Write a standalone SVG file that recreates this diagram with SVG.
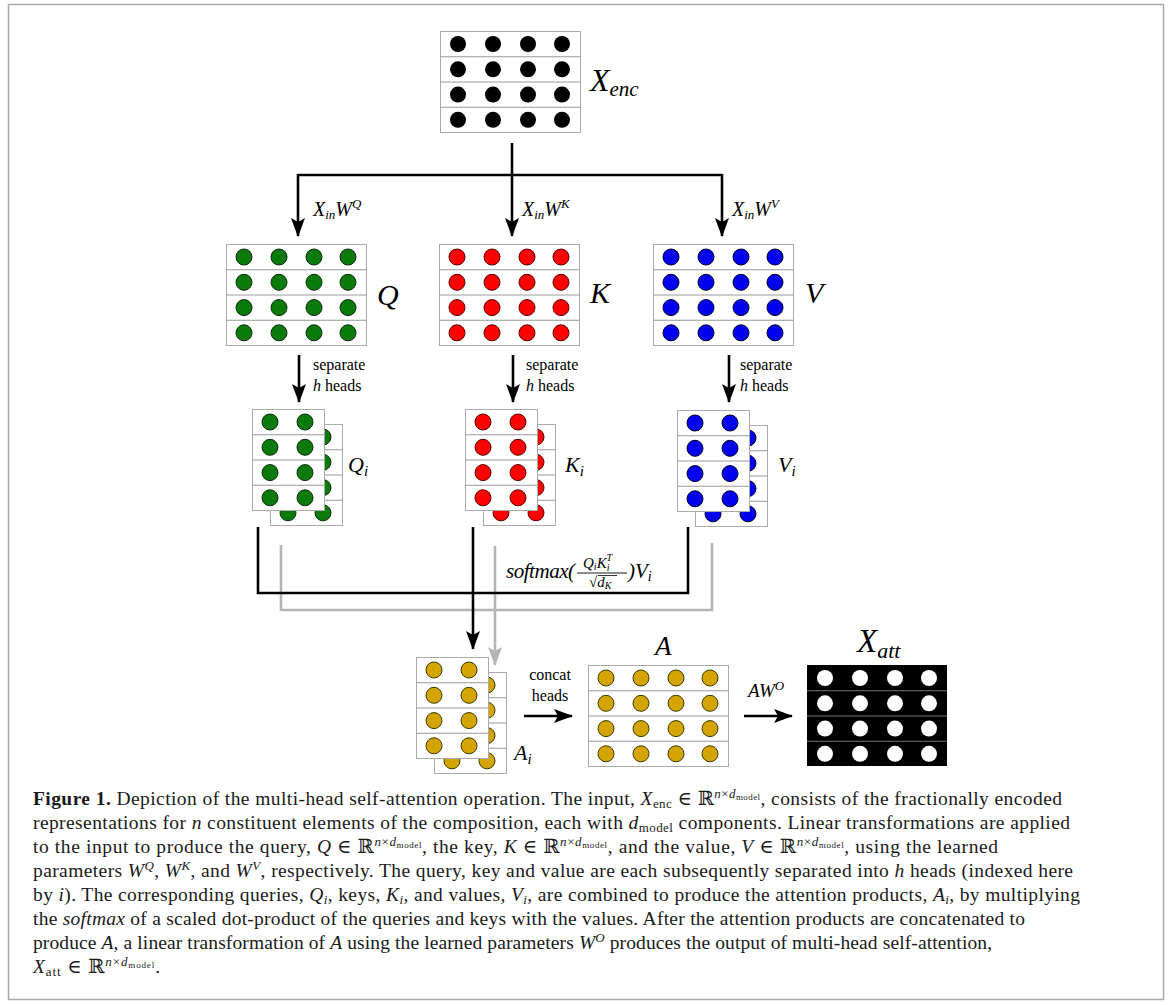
<svg xmlns="http://www.w3.org/2000/svg" xmlns:xlink="http://www.w3.org/1999/xlink" width="1169" height="1005" viewBox="0 0 1169 1005">
<style>
.lbl{font-family:"Liberation Serif","DejaVu Serif",serif;fill:#000}
.it{font-style:italic}
.cap{font-family:"Liberation Serif","DejaVu Serif",serif;font-size:19.5px;fill:#1a1a1a}
.s13{font-size:13px}
.s9{font-size:9px}
.ln{fill:none;stroke:#000;stroke-width:2.6}
.gl{fill:none;stroke:#b4b4b4;stroke-width:2.6}
</style>
<defs>
<marker id="ah" markerUnits="userSpaceOnUse" markerWidth="20" markerHeight="14" refX="18" refY="7" orient="auto" viewBox="0 0 20 14"><path d="M0,0 L19,7 L0,14 L4,7 Z" fill="#000"/></marker>
<marker id="ahg" markerUnits="userSpaceOnUse" markerWidth="20" markerHeight="14" refX="18" refY="7" orient="auto" viewBox="0 0 20 14"><path d="M0,0 L19,7 L0,14 L4,7 Z" fill="#b4b4b4"/></marker>
<g id="f4"><rect x="0.5" y="0.5" width="140" height="101" fill="#fff" stroke="#aaa"/><path d="M0.5,25.75H140.5M0.5,51H140.5M0.5,76.25H140.5" stroke="#999" fill="none"/></g>
<g id="f2"><rect x="0.5" y="0.5" width="72" height="101" fill="#fff" stroke="#aaa"/><path d="M0.5,25.75H72.5M0.5,51H72.5M0.5,76.25H72.5" stroke="#999" fill="none"/></g>
<g id="c4">
<circle cx="18" cy="13" r="8"/><circle cx="53" cy="13" r="8"/><circle cx="88" cy="13" r="8"/><circle cx="122" cy="13" r="8"/>
<circle cx="18" cy="38.3" r="8"/><circle cx="53" cy="38.3" r="8"/><circle cx="88" cy="38.3" r="8"/><circle cx="122" cy="38.3" r="8"/>
<circle cx="18" cy="63.6" r="8"/><circle cx="53" cy="63.6" r="8"/><circle cx="88" cy="63.6" r="8"/><circle cx="122" cy="63.6" r="8"/>
<circle cx="18" cy="88.8" r="8"/><circle cx="53" cy="88.8" r="8"/><circle cx="88" cy="88.8" r="8"/><circle cx="122" cy="88.8" r="8"/>
</g>
<g id="c2">
<circle cx="18" cy="13" r="8"/><circle cx="53" cy="13" r="8"/>
<circle cx="18" cy="38.3" r="8"/><circle cx="53" cy="38.3" r="8"/>
<circle cx="18" cy="63.6" r="8"/><circle cx="53" cy="63.6" r="8"/>
<circle cx="18" cy="88.8" r="8"/><circle cx="53" cy="88.8" r="8"/>
</g>
</defs>
<rect x="0" y="0" width="1169" height="1005" fill="#fff"/>
<rect x="8.5" y="4.5" width="1155" height="995" fill="none" stroke="#a8a8a8" stroke-width="1.5"/>

<g id="Xenc" transform="translate(440,31)"><use href="#f4"/><use href="#c4" fill="#000"/>
<text class="lbl it" x="150" y="60" font-size="32">X<tspan font-size="21" dy="5">enc</tspan></text></g>

<g id="Q" transform="translate(226,244)"><use href="#f4"/><use href="#c4" fill="#0a7a0a" stroke="#0d2a0d"/>
<text class="lbl it" x="151" y="61" font-size="30">Q</text></g>
<g id="K" transform="translate(439,244)"><use href="#f4"/><use href="#c4" fill="#ff0000" stroke="#5a0000"/>
<text class="lbl it" x="151" y="59" font-size="30">K</text></g>
<g id="V" transform="translate(653,244)"><use href="#f4"/><use href="#c4" fill="#0000ee" stroke="#00002a"/>
<text class="lbl it" x="152" y="59" font-size="30">V</text></g>

<g id="Qi" transform="translate(252,409)"><g transform="translate(18,15)"><use href="#f2"/><use href="#c2" fill="#0a7a0a" stroke="#0d2a0d"/></g><use href="#f2"/><use href="#c2" fill="#0a7a0a" stroke="#0d2a0d"/>
<text class="lbl it" x="96" y="63" font-size="22">Q<tspan font-size="15" dy="4">i</tspan></text></g>
<g id="Ki" transform="translate(465,409)"><g transform="translate(18,15)"><use href="#f2"/><use href="#c2" fill="#ff0000" stroke="#5a0000"/></g><use href="#f2"/><use href="#c2" fill="#ff0000" stroke="#5a0000"/>
<text class="lbl it" x="100" y="63" font-size="22">K<tspan font-size="15" dy="4">i</tspan></text></g>
<g id="Vi" transform="translate(677,410)"><g transform="translate(18,15)"><use href="#f2"/><use href="#c2" fill="#0000ee" stroke="#00002a"/></g><use href="#f2"/><use href="#c2" fill="#0000ee" stroke="#00002a"/>
<text class="lbl it" x="101" y="62" font-size="22">V<tspan font-size="15" dy="4">i</tspan></text></g>

<g id="Ai" transform="translate(416,657)"><g transform="translate(18,15)"><use href="#f2"/><use href="#c2" fill="#d4a500" stroke="#3a3a00"/></g><use href="#f2"/><use href="#c2" fill="#d4a500" stroke="#3a3a00"/>
<text class="lbl it" x="98" y="103" font-size="22">A<tspan font-size="15" dy="4">i</tspan></text></g>

<g id="A" transform="translate(588,665)"><use href="#f4"/><use href="#c4" fill="#d4a500" stroke="#3a3a00"/>
<text class="lbl it" x="67" y="-10" font-size="27">A</text></g>

<g id="Xatt" transform="translate(807,665)"><rect x="0" y="0" width="140" height="101" fill="#000"/><path d="M0,25.75H140M0,51H140M0,76.25H140" stroke="#777" fill="none"/><use href="#c4" fill="#fff"/>
<text class="lbl it" x="50" y="-13" font-size="33">X<tspan font-size="22" dy="6">att</tspan></text></g>

<g id="connectors">
<line class="ln" x1="512" y1="143" x2="512" y2="236" marker-end="url(#ah)"/>
<path class="ln" d="M298,175H722"/>
<line class="ln" x1="298" y1="174" x2="298" y2="236" marker-end="url(#ah)"/>
<line class="ln" x1="722" y1="174" x2="722" y2="236" marker-end="url(#ah)"/>
<line class="ln" x1="299" y1="355" x2="299" y2="402" marker-end="url(#ah)"/>
<line class="ln" x1="513" y1="355" x2="513" y2="402" marker-end="url(#ah)"/>
<line class="ln" x1="729" y1="355" x2="729" y2="402" marker-end="url(#ah)"/>
<path class="gl" d="M281,545V610H712V543"/>
<line class="gl" x1="495" y1="546" x2="495" y2="665" marker-end="url(#ahg)"/>
<path class="ln" d="M258,527V593H688V527"/>
<line class="ln" x1="473" y1="527" x2="473" y2="649" marker-end="url(#ah)"/>
<line class="ln" x1="524" y1="716" x2="572" y2="716" marker-end="url(#ah)"/>
<line class="ln" x1="744" y1="716" x2="792" y2="716" marker-end="url(#ah)"/>
</g>

<g id="labels">
<text class="lbl it" x="313" y="216" font-size="20">X<tspan font-size="13" dy="3">in</tspan><tspan dy="-3">W</tspan><tspan font-size="13" dy="-8">Q</tspan></text>
<text class="lbl it" x="522" y="216" font-size="20">X<tspan font-size="13" dy="3">in</tspan><tspan dy="-3">W</tspan><tspan font-size="13" dy="-8">K</tspan></text>
<text class="lbl it" x="732" y="216" font-size="20">X<tspan font-size="13" dy="3">in</tspan><tspan dy="-3">W</tspan><tspan font-size="13" dy="-8">V</tspan></text>
<text class="lbl" x="313" y="370" font-size="16">separate</text>
<text class="lbl" x="313" y="391" font-size="16"><tspan class="it">h</tspan> heads</text>
<text class="lbl" x="526" y="370" font-size="16">separate</text>
<text class="lbl" x="526" y="391" font-size="16"><tspan class="it">h</tspan> heads</text>
<text class="lbl" x="740" y="370" font-size="16">separate</text>
<text class="lbl" x="740" y="391" font-size="16"><tspan class="it">h</tspan> heads</text>
<text class="lbl it" x="506" y="578" font-size="21" textLength="69" lengthAdjust="spacing">softmax(</text>
<text class="lbl it" x="583" y="568" font-size="15">Q<tspan font-size="10" dy="2">i</tspan><tspan dy="-2">K</tspan><tspan font-size="10" dy="3">i</tspan><tspan font-size="10" dx="-3" dy="-10">T</tspan></text>
<line x1="577" y1="573" x2="627" y2="573" stroke="#000" stroke-width="0.9"/>
<text class="lbl" x="589" y="587" font-size="15">√<tspan class="it">d</tspan><tspan class="it" font-size="10" dy="2">K</tspan></text>
<line x1="598" y1="575.5" x2="617" y2="575.5" stroke="#000" stroke-width="0.8"/>
<text class="lbl it" x="628" y="578" font-size="21">)V<tspan font-size="14" dy="3">i</tspan></text>
<text class="lbl" x="550" y="680" font-size="16" text-anchor="middle">concat</text>
<text class="lbl" x="550" y="701" font-size="16" text-anchor="middle">heads</text>
<text class="lbl it" x="748" y="697" font-size="19">AW<tspan font-size="13" dy="-7">O</tspan></text>
</g>

<g id="caption">
<text class="cap" x="33" y="805" textLength="1029" lengthAdjust="spacing"><tspan font-weight="bold">Figure 1.</tspan> Depiction of the multi-head self-attention operation. The input, <tspan class="it">X</tspan><tspan class="s13" dy="3">enc</tspan><tspan dy="-3"> ∈ ℝ</tspan><tspan class="s13 it" dy="-7">n</tspan><tspan class="s13">×</tspan><tspan class="s13 it">d</tspan><tspan class="s9" dy="2">model</tspan><tspan dy="5">, consists of the fractionally encoded</tspan></text>
<text class="cap" x="33" y="829" textLength="1037" lengthAdjust="spacing">representations for <tspan class="it">n</tspan> constituent elements of the composition, each with <tspan class="it">d</tspan><tspan class="s13" dy="3">model</tspan><tspan dy="-3"> components. Linear transformations are applied</tspan></text>
<text class="cap" x="33" y="853" textLength="965" lengthAdjust="spacing">to the input to produce the query, <tspan class="it">Q</tspan> ∈ ℝ<tspan class="s13 it" dy="-7">n</tspan><tspan class="s13">×</tspan><tspan class="s13 it">d</tspan><tspan class="s9" dy="2">model</tspan><tspan dy="5">, the key, </tspan><tspan class="it">K</tspan> ∈ ℝ<tspan class="s13 it" dy="-7">n</tspan><tspan class="s13">×</tspan><tspan class="s13 it">d</tspan><tspan class="s9" dy="2">model</tspan><tspan dy="5">, and the value, </tspan><tspan class="it">V</tspan> ∈ ℝ<tspan class="s13 it" dy="-7">n</tspan><tspan class="s13">×</tspan><tspan class="s13 it">d</tspan><tspan class="s9" dy="2">model</tspan><tspan dy="5">, using the learned</tspan></text>
<text class="cap" x="33" y="877" textLength="1040" lengthAdjust="spacing">parameters <tspan class="it">W</tspan><tspan class="s13 it" dy="-7">Q</tspan><tspan dy="7">, </tspan><tspan class="it">W</tspan><tspan class="s13 it" dy="-7">K</tspan><tspan dy="7">, and </tspan><tspan class="it">W</tspan><tspan class="s13 it" dy="-7">V</tspan><tspan dy="7">, respectively. The query, key and value are each subsequently separated into </tspan><tspan class="it">h</tspan> heads (indexed here</text>
<text class="cap" x="33" y="901" textLength="1047" lengthAdjust="spacing">by <tspan class="it">i</tspan>). The corresponding queries, <tspan class="it">Q<tspan class="s13" dy="3">i</tspan></tspan><tspan dy="-3">, keys, </tspan><tspan class="it">K<tspan class="s13" dy="3">i</tspan></tspan><tspan dy="-3">, and values, </tspan><tspan class="it">V<tspan class="s13" dy="3">i</tspan></tspan><tspan dy="-3">, are combined to produce the attention products, </tspan><tspan class="it">A<tspan class="s13" dy="3">i</tspan></tspan><tspan dy="-3">, by multiplying</tspan></text>
<text class="cap" x="33" y="925" textLength="992" lengthAdjust="spacing">the <tspan class="it">softmax</tspan> of a scaled dot-product of the queries and keys with the values. After the attention products are concatenated to</text>
<text class="cap" x="33" y="949" textLength="959" lengthAdjust="spacing">produce <tspan class="it">A</tspan>, a linear transformation of <tspan class="it">A</tspan> using the learned parameters <tspan class="it">W</tspan><tspan class="s13 it" dy="-7">O</tspan><tspan dy="7"> produces the output of multi-head self-attention,</tspan></text>
<text class="cap" x="33" y="973" textLength="127" lengthAdjust="spacing"><tspan class="it">X</tspan><tspan class="s13" dy="3">att</tspan><tspan dy="-3"> ∈ ℝ</tspan><tspan class="s13 it" dy="-7">n</tspan><tspan class="s13">×</tspan><tspan class="s13 it">d</tspan><tspan class="s9" dy="2">model</tspan><tspan dy="5">.</tspan></text>
</g>
</svg>
